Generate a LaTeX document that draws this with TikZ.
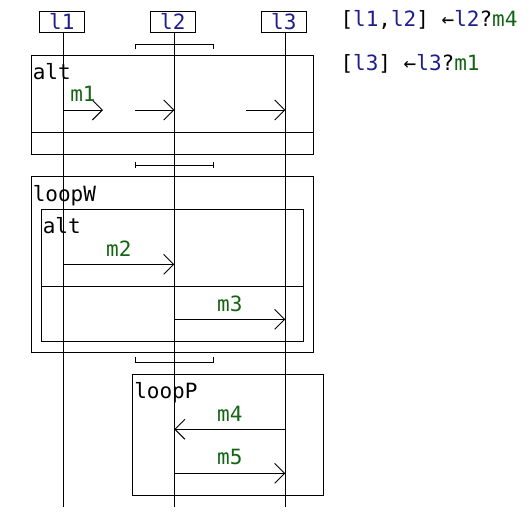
\documentclass[tikz,border=0pt]{standalone}
\usepackage{fontspec}
\setmonofont{DejaVu Sans Mono}
\usetikzlibrary{arrows.meta}
\definecolor{lname}{RGB}{30,30,140}
\definecolor{mname}{RGB}{20,100,20}
\newcommand{\lnm}[1]{\textcolor{lname}{#1}}
\newcommand{\msn}[1]{\textcolor{mname}{#1}}
\begin{document}
\begin{tikzpicture}[x=1pt, y=-1pt, line width=1pt, font=\ttfamily\fontsize{21}{25}\selectfont,
	head/.style={draw, inner sep=0pt, minimum width=45pt, minimum height=21pt, text=lname},
	msg/.style={-{Straight Barb[length=10pt,width=20pt,line width=0.9pt]}},
	lbl/.style={text=mname, inner sep=0pt, anchor=base},
	fname/.style={inner sep=0pt, anchor=base west}]
	\useasboundingbox (0,0) rectangle (530,517);
	%%%%%%%%%%%%%%%%%%%%%%%%%%%%%%%%%
	\node[head] (l1) at (61.8,21.8) {l1};
	\node[head] (l2) at (172.8,21.8) {l2};
	\node[head] (l3) at (283.8,21.8) {l3};
	\coordinate (l1end) at (63.3,507);
	\coordinate (l2end) at (174.3,507);
	\coordinate (l3end) at (285.3,507);
	%%%%%%%%%%%%%%%%%%%%%%%%%%%%%%%%%
	\coordinate (m1a) at (63.3,110);
	\coordinate (m1b) at (103,110);
	\coordinate (m1c) at (135.3,110);
	\coordinate (m1d) at (174.3,110);
	\coordinate (m1e) at (246.3,110);
	\coordinate (m1f) at (285.3,110);
	\coordinate (m2a) at (63.3,264.3);
	\coordinate (m2b) at (174.3,264.3);
	\coordinate (m3a) at (174.3,319.3);
	\coordinate (m3b) at (285.3,319.3);
	\coordinate (m4a) at (285.3,429.3);
	\coordinate (m4b) at (174.3,429.3);
	\coordinate (m5a) at (174.3,473.3);
	\coordinate (m5b) at (285.3,473.3);
	%%%%%%%%%%%%%%%%%%%%%%%%%%%%%%%%%
	\draw (l1.south -| l1end) -- (l1end);
	\draw (l2.south -| l2end) -- (l2end);
	\draw (l3.south -| l3end) -- (l3end);
	%%%%%%%%%%%%%%%%%%%%%%%%%%%%%%%%%
	% frames
	\draw (31.3,55.3) rectangle (313.3,154);
	\draw (31.3,132.3) -- (313.3,132.3);
	\draw (31.3,176.3) rectangle (313.3,352.3);
	\draw (41.3,209.7) rectangle (303.3,341.3);
	\draw (41.3,286.3) -- (303.3,286.3);
	\draw (132.3,374.3) rectangle (323.3,495.3);
	\node[fname] (alt1) at (32.3,79.5) {alt};
	\node[fname] (loopW) at (32.3,201) {loopW};
	\node[fname] (alt2) at (42.3,233) {alt};
	\node[fname] (loopP) at (133.8,398) {loopP};
	%%%%%%%%%%%%%%%%%%%%%%%%%%%%%%%%%
	% brackets
	\draw (135.3,49.3) -- (135.3,44.3) -- (213.3,44.3) -- (213.3,49.3);
	\draw (135.3,162) -- (135.3,168) (135.3,165) -- (213.3,165) (213.3,162) -- (213.3,168);
	\draw (135.3,357.3) -- (135.3,362.7) -- (213.3,362.7) -- (213.3,357.3);
	%%%%%%%%%%%%%%%%%%%%%%%%%%%%%%%%%
	\begin{scope}[msg]
		\draw (m1a) -- (m1b);
		\draw (m1c) -- (m1d);
		\draw (m1e) -- (m1f);
		\draw (m2a) -- (m2b);
		\draw (m3a) -- (m3b);
		\draw (m4a) -- (m4b);
		\draw (m5a) -- (m5b);
	\end{scope}
	\node[lbl] (m1) at (83,101) {m1};
	\node[lbl] (m2) at (118.8,256) {m2};
	\node[lbl] (m3) at (229.8,311) {m3};
	\node[lbl] (m4) at (229.8,421) {m4};
	\node[lbl] (m5) at (229.8,464) {m5};
	%%%%%%%%%%%%%%%%%%%%%%%%%%%%%%%%%
	\node[fname] (g1) at (340,26) {[\lnm{l1},\lnm{l2}] ←\lnm{l2}?\msn{m4}};
	\node[fname] (g2) at (340,70.7) {[\lnm{l3}] ←\lnm{l3}?\msn{m1}};
\end{tikzpicture}
\end{document}
